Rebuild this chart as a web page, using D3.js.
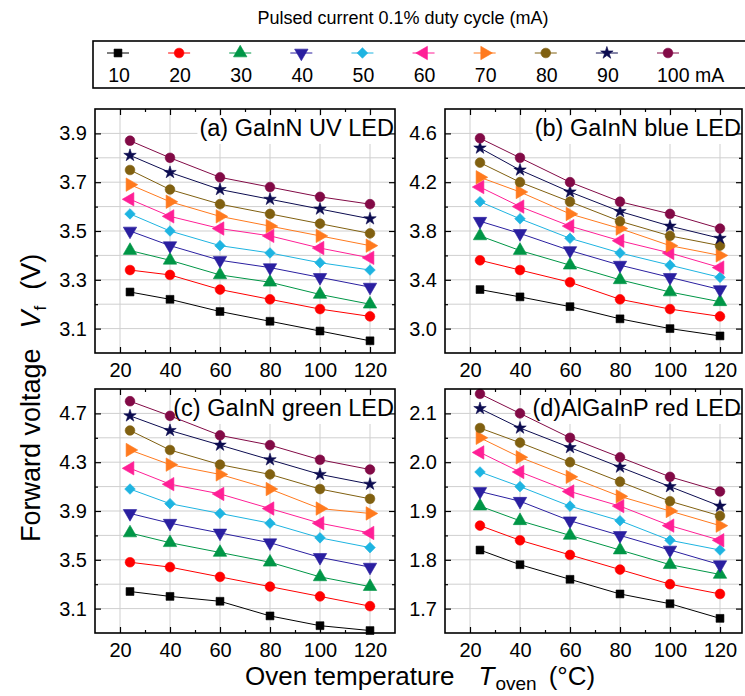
<!DOCTYPE html>
<html><head><meta charset="utf-8">
<script src="https://cdn.jsdelivr.net/npm/d3@7"></script>
<style>
body{margin:0;background:#fff}
text{font-family:"Liberation Sans",Arial,sans-serif;fill:#000}
</style>
</head><body>
<svg id="chart" width="745" height="696"></svg>
<script>
const temperatures = [24, 40, 60, 80, 100, 120];
const currents = [10, 20, 30, 40, 50, 60, 70, 80, 90, 100];
const currentLabels = ["10", "20", "30", "40", "50", "60", "70", "80", "90", "100 mA"];
const seriesColors = ["#000000", "#ff0000", "#009646", "#2a1fa0", "#1eb4e1", "#ff1f96", "#ff7a1e", "#806010", "#0c0c50", "#820a46"];
const seriesSymbols = ["square", "circle", "triUp", "triDown", "diamond", "triLeft", "triRight", "circle", "star", "circle"];

// rows: 10 ... 100 mA ; columns: temperatures
const vfUV = [
  [3.25, 3.22, 3.17, 3.13, 3.09, 3.05],
  [3.34, 3.32, 3.26, 3.22, 3.18, 3.15],
  [3.42, 3.38, 3.32, 3.29, 3.24, 3.20],
  [3.50, 3.44, 3.38, 3.35, 3.31, 3.27],
  [3.57, 3.50, 3.44, 3.41, 3.37, 3.34],
  [3.63, 3.56, 3.51, 3.48, 3.43, 3.39],
  [3.69, 3.62, 3.56, 3.52, 3.48, 3.44],
  [3.75, 3.67, 3.61, 3.57, 3.53, 3.49],
  [3.81, 3.74, 3.67, 3.63, 3.59, 3.55],
  [3.87, 3.80, 3.72, 3.68, 3.64, 3.61]
];
const vfBlue = [
  [3.32, 3.26, 3.18, 3.08, 3.00, 2.94],
  [3.56, 3.48, 3.38, 3.24, 3.16, 3.10],
  [3.76, 3.64, 3.52, 3.40, 3.30, 3.22],
  [3.88, 3.78, 3.64, 3.52, 3.42, 3.32],
  [4.04, 3.90, 3.74, 3.62, 3.52, 3.42],
  [4.16, 4.00, 3.84, 3.72, 3.62, 3.50],
  [4.24, 4.12, 3.94, 3.82, 3.68, 3.60],
  [4.36, 4.20, 4.04, 3.88, 3.76, 3.68],
  [4.48, 4.30, 4.12, 3.96, 3.84, 3.74],
  [4.56, 4.40, 4.20, 4.04, 3.94, 3.82]
];
const vfGreen = [
  [3.24, 3.20, 3.16, 3.04, 2.96, 2.92],
  [3.48, 3.44, 3.36, 3.28, 3.20, 3.12],
  [3.72, 3.64, 3.56, 3.48, 3.36, 3.28],
  [3.88, 3.80, 3.72, 3.64, 3.52, 3.44],
  [4.08, 3.96, 3.88, 3.80, 3.68, 3.60],
  [4.25, 4.12, 4.04, 3.92, 3.80, 3.72],
  [4.40, 4.28, 4.20, 4.08, 3.92, 3.88],
  [4.56, 4.40, 4.28, 4.20, 4.08, 4.00],
  [4.68, 4.56, 4.44, 4.32, 4.20, 4.12],
  [4.80, 4.68, 4.52, 4.44, 4.32, 4.24]
];
const vfRed = [
  [1.82, 1.79, 1.76, 1.73, 1.71, 1.68],
  [1.87, 1.84, 1.81, 1.78, 1.75, 1.73],
  [1.91, 1.88, 1.85, 1.82, 1.79, 1.77],
  [1.94, 1.92, 1.88, 1.85, 1.82, 1.79],
  [1.98, 1.95, 1.91, 1.88, 1.84, 1.82],
  [2.02, 1.98, 1.94, 1.91, 1.87, 1.84],
  [2.05, 2.01, 1.97, 1.93, 1.90, 1.87],
  [2.07, 2.04, 2.00, 1.96, 1.92, 1.89],
  [2.11, 2.07, 2.03, 1.99, 1.95, 1.91],
  [2.14, 2.10, 2.05, 2.01, 1.97, 1.94]
];

const xTicks = [20, 40, 60, 80, 100, 120];
const xMinorTicks = [30, 50, 70, 90, 110];
const panelTitles = ["(a) GaInN UV LED", "(b) GaInN blue LED", "(c) GaInN green LED", "(d)AlGaInP red LED"];
const yDomains = [[3.0, 4.0], [2.8, 4.8], [2.9, 4.9], [1.65, 2.15]];
const yMajorTicks = [[3.1, 3.3, 3.5, 3.7, 3.9], [3.0, 3.4, 3.8, 4.2, 4.6], [3.1, 3.5, 3.9, 4.3, 4.7], [1.7, 1.8, 1.9, 2.0, 2.1]];
const yMinorTicks = [[3.2, 3.4, 3.6, 3.8], [3.2, 3.6, 4.0, 4.4], [3.3, 3.7, 4.1, 4.5], [1.75, 1.85, 1.95, 2.05]];
const panelData = [vfUV, vfBlue, vfGreen, vfRed];

const svg = d3.select("#chart");
const font = '"Liberation Sans",Arial,sans-serif';

const layout = [
  {l: 95, r: 395, t: 109, b: 353, xd: [10, 130]},
  {l: 445, r: 742, t: 109, b: 353, xd: [10, 128.8]},
  {l: 95, r: 395, t: 389, b: 633, xd: [10, 130]},
  {l: 445, r: 742, t: 389, b: 633, xd: [10, 128.8]}
];

function symbolPath(name) {
  switch (name) {
    case "square": return {p: d3.symbol(d3.symbolSquare, 62)(), r: 0};
    case "circle": return {p: d3.symbol(d3.symbolCircle, 74)(), r: 0};
    case "triUp": return {p: d3.symbol(d3.symbolTriangle, 78)(), r: 0};
    case "triDown": return {p: d3.symbol(d3.symbolTriangle, 78)(), r: 180};
    case "triLeft": return {p: d3.symbol(d3.symbolTriangle, 78)(), r: -90};
    case "triRight": return {p: d3.symbol(d3.symbolTriangle, 78)(), r: 90};
    case "diamond": return {p: d3.symbol(d3.symbolSquare, 56)(), r: 45};
    case "star": return {p: d3.symbol(d3.symbolStar, 48)(), r: 0};
  }
}

layout.forEach((L, pi) => {
  const x = d3.scaleLinear().domain(L.xd).range([L.l, L.r]);
  const y = d3.scaleLinear().domain(yDomains[pi]).range([L.b, L.t]);
  const g = svg.append("g");
  const allY = yMajorTicks[pi].concat(yMinorTicks[pi]);
  // grid
  g.selectAll(".gx").data(xTicks).join("line")
    .attr("x1", d => x(d)).attr("x2", d => x(d)).attr("y1", L.t).attr("y2", L.b)
    .attr("stroke", "#cfcfcf").attr("stroke-width", 1);
  g.selectAll(".gy").data(allY).join("line").attr("class", "gy")
    .attr("x1", L.l).attr("x2", L.r).attr("y1", d => y(d)).attr("y2", d => y(d))
    .attr("stroke", "#cfcfcf").attr("stroke-width", 1);

  // panel label with white background
  const lbl = g.append("text").attr("x", L.r - 1).attr("y", L.t + 27)
    .attr("text-anchor", "end").style("font-size", "23.5px").text(panelTitles[pi]);
  const bb = lbl.node().getBBox();
  g.insert("rect", "text").attr("x", bb.x - 2).attr("y", bb.y + 1).attr("width", bb.width + 3).attr("height", bb.height + 2).attr("fill", "#fff");

  // series
  const line = d3.line().x((d, i) => x(temperatures[i])).y(d => y(d));
  panelData[pi].forEach((vals, si) => {
    g.append("path").attr("d", line(vals)).attr("fill", "none")
      .attr("stroke", seriesColors[si]).attr("stroke-width", 1);
    const s = symbolPath(seriesSymbols[si]);
    g.selectAll(null).data(vals).join("path")
      .attr("d", s.p)
      .attr("transform", (d, i) => `translate(${x(temperatures[i])},${y(d)}) rotate(${s.r})`)
      .attr("fill", seriesColors[si]).attr("stroke", seriesColors[si]).attr("stroke-width", 0.6);
  });

  // axes (ticks inward)
  const fmt = d3.format(".1f");
  g.append("g").attr("transform", `translate(0,${L.b})`)
    .call(d3.axisBottom(x).tickValues(xTicks).tickSize(-6).tickPadding(10));
  g.append("g").attr("transform", `translate(0,${L.b})`)
    .call(d3.axisBottom(x).tickValues(xMinorTicks).tickSize(-3).tickFormat(""));
  g.append("g").attr("transform", `translate(0,${L.t})`)
    .call(d3.axisTop(x).tickValues(xTicks).tickSize(-6).tickFormat(""));
  g.append("g").attr("transform", `translate(0,${L.t})`)
    .call(d3.axisTop(x).tickValues(xMinorTicks).tickSize(-3).tickFormat(""));
  g.append("g").attr("transform", `translate(${L.l},0)`)
    .call(d3.axisLeft(y).tickValues(yMajorTicks[pi]).tickSize(-6).tickPadding(8).tickFormat(fmt));
  g.append("g").attr("transform", `translate(${L.l},0)`)
    .call(d3.axisLeft(y).tickValues(yMinorTicks[pi]).tickSize(-3).tickFormat(""));
  g.append("g").attr("transform", `translate(${L.r},0)`)
    .call(d3.axisRight(y).tickValues(yMajorTicks[pi]).tickSize(-6).tickFormat(""));
  g.append("g").attr("transform", `translate(${L.r},0)`)
    .call(d3.axisRight(y).tickValues(yMinorTicks[pi]).tickSize(-3).tickFormat(""));
  g.selectAll(".domain").remove();
  g.selectAll(".tick line").attr("stroke", "#000").attr("stroke-width", 1.2);
  g.selectAll(".tick text").style("font-size", "20px").style("font-family", font);

  g.append("rect").attr("x", L.l).attr("y", L.t).attr("width", L.r - L.l).attr("height", L.b - L.t)
    .attr("fill", "none").attr("stroke", "#000").attr("stroke-width", 1.6);
});

// legend
svg.append("text").attr("x", 403).attr("y", 24).attr("text-anchor", "middle")
  .style("font-size", "18px").text("Pulsed current 0.1% duty cycle (mA)");
svg.append("rect").attr("x", 93).attr("y", 41).attr("width", 670).attr("height", 47)
  .attr("fill", "none").attr("stroke", "#000").attr("stroke-width", 1.6);
const legX = d3.scalePoint().domain(currents).range([118, 668]);
currents.forEach((c, si) => {
  const cx = legX(c);
  svg.append("line").attr("x1", cx - 11).attr("x2", cx + 11).attr("y1", 53).attr("y2", 53)
    .attr("stroke", seriesColors[si]).attr("stroke-width", 1);
  const s = symbolPath(seriesSymbols[si]);
  svg.append("path").attr("d", s.p).attr("transform", `translate(${cx},53) rotate(${s.r})`)
    .attr("fill", seriesColors[si]).attr("stroke", seriesColors[si]).attr("stroke-width", 0.6);
  const t = svg.append("text").attr("y", 82).style("font-size", "19.5px").text(currentLabels[si]);
  if (si === 9) t.attr("x", cx - 11).attr("text-anchor", "start");
  else t.attr("x", cx + 1).attr("text-anchor", "middle");
});

// axis titles
const xt = svg.append("text").attr("x", 245).attr("y", 685).attr("text-anchor", "start").style("font-size", "26px");
xt.append("tspan").text("Oven temperature");
xt.append("tspan").attr("dx", 24).style("font-style", "italic").text("T");
xt.append("tspan").attr("dy", 5).attr("dx", 1).style("font-size", "19px").text("oven");
xt.append("tspan").attr("dy", -5).attr("dx", 12).text("(°C)");

const yt = svg.append("text").attr("transform", "translate(40,542) rotate(-90)").attr("text-anchor", "start").style("font-size", "27px");
yt.append("tspan").text("Forward voltage");
yt.append("tspan").attr("dx", 20).style("font-style", "italic").text("V");
yt.append("tspan").attr("dy", 6).style("font-size", "17px").text("f");
yt.append("tspan").attr("dy", -6).attr("dx", 16).text("(V)");
</script>
</body></html>
